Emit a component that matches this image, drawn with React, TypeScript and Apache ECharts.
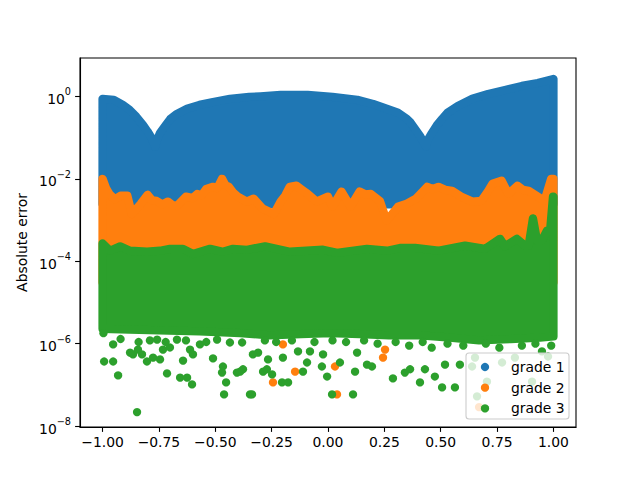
import React, { useEffect, useRef } from "react";
import * as echarts from "echarts";

const seriesNames = ["grade 1", "grade 2", "grade 3"];
const seriesColors = ["#1f77b4", "#ff7f0e", "#2ca02c"];
const xTicks = [-1, -0.75, -0.5, -0.25, 0, 0.25, 0.5, 0.75, 1];
const yTickExponents = [-8, -6, -4, -2, 0];
const yLabel = "Absolute error";

// grade 1: dense band, upper edge (left -> right) and lower edge (right -> left)
const grade1Upper: number[][] = [
  [-1.0, 0.87], [-0.95, 0.82], [-0.91, 0.62], [-0.88, 0.47], [-0.85, 0.32], [-0.82, 0.2],
  [-0.8, 0.14], [-0.78, 0.093], [-0.767, 0.06], [-0.758, 0.088], [-0.745, 0.13], [-0.72, 0.2],
  [-0.7, 0.28], [-0.67, 0.375], [-0.625, 0.5], [-0.57, 0.62], [-0.51, 0.73], [-0.435, 0.87],
  [-0.35, 0.97], [-0.3, 1.0], [-0.21, 1.08], [-0.09, 1.08], [0.02, 0.97], [0.13, 0.82],
  [0.2, 0.655], [0.26, 0.5], [0.31, 0.4], [0.35, 0.284], [0.364, 0.24], [0.386, 0.163],
  [0.408, 0.11], [0.435, 0.06], [0.443, 0.088], [0.461, 0.13], [0.483, 0.2], [0.506, 0.284],
  [0.53, 0.4], [0.576, 0.586], [0.64, 0.87], [0.71, 1.14], [0.785, 1.43], [0.86, 1.79],
  [0.93, 2.11], [1.0, 2.64],
];
const grade1Lower: number[][] = [[1.0, 2.4e-3], [-1.0, 2.4e-3]];

// grade 2
const grade2Upper: number[][] = [
  [-1.0, 1.0e-2], [-0.985, 6.0e-3], [-0.97, 4.3e-3], [-0.945, 3.2e-3], [-0.92, 3.9e-3], [-0.89, 3.9e-3],
  [-0.87, 1.4e-3], [-0.83, 2.5e-3], [-0.8, 4.1e-3], [-0.78, 3.0e-3], [-0.76, 2.9e-3], [-0.735, 2.4e-3],
  [-0.71, 2.8e-3], [-0.69, 2.3e-3], [-0.67, 2.2e-3], [-0.63, 3.7e-3], [-0.6, 3.4e-3], [-0.58, 4.3e-3],
  [-0.56, 4.0e-3], [-0.54, 5.7e-3], [-0.51, 6.4e-3], [-0.49, 6.0e-3], [-0.47, 1.0e-2], [-0.455, 7.0e-3],
  [-0.44, 6.4e-3], [-0.42, 4.6e-3], [-0.4, 3.7e-3], [-0.36, 2.8e-3], [-0.33, 3.3e-3], [-0.31, 2.5e-3],
  [-0.29, 1.9e-3], [-0.24, 1.4e-3], [-0.21, 2.8e-3], [-0.19, 3.9e-3], [-0.17, 6.4e-3], [-0.14, 6.8e-3],
  [-0.115, 5.4e-3], [-0.09, 4.3e-3], [-0.05, 2.8e-3], [0.0, 3.7e-3], [0.02, 2.1e-3], [0.06, 4.9e-3],
  [0.08, 3.2e-3], [0.1, 2.1e-3], [0.14, 4.9e-3], [0.165, 4.2e-3], [0.19, 4.3e-3], [0.23, 2.9e-3],
  [0.26, 9.6e-4], [0.31, 2.1e-3], [0.35, 2.5e-3], [0.39, 3.3e-3], [0.42, 4.9e-3], [0.44, 6.4e-3],
  [0.465, 5.6e-3], [0.49, 6.4e-3], [0.52, 5.4e-3], [0.55, 5.1e-3], [0.59, 3.7e-3], [0.64, 2.8e-3],
  [0.68, 2.9e-3], [0.71, 5.0e-3], [0.73, 7.6e-3], [0.77, 9.0e-3], [0.8, 4.3e-3], [0.84, 6.8e-3],
  [0.865, 5.4e-3], [0.89, 5.1e-3], [0.93, 3.7e-3], [0.96, 2.9e-3], [0.99, 1.0e-2], [1.0, 1.0e-2],
];
const grade2Lower: number[][] = [[1.0, 3e-5], [-1.0, 3e-5]];
const grade2Points: number[][] = [
  [-0.244, 1.15e-7], [-0.146, 2.1e-7], [0.031, 2.8e-7], [0.04, 5.9e-8], [-0.2, 9.6e-7],
  [0.253, 7.2e-7], [0.244, 4.6e-7], [0.67, 2.9e-8],
];

// grade 3
const grade3Upper: number[][] = [
  [-1.0, 2.7e-4], [-0.967, 1.8e-4], [-0.922, 2.3e-4], [-0.878, 1.8e-4], [-0.803, 1.7e-4], [-0.745, 1.8e-4],
  [-0.701, 2.0e-4], [-0.643, 2.0e-4], [-0.599, 1.5e-4], [-0.523, 2.0e-4], [-0.466, 1.7e-4], [-0.421, 2.0e-4],
  [-0.359, 1.9e-4], [-0.279, 2.3e-4], [-0.169, 1.7e-4], [-0.022, 1.9e-4], [0.04, 1.6e-4], [0.173, 2.0e-4],
  [0.262, 1.8e-4], [0.319, 2.1e-4], [0.386, 2.1e-4], [0.488, 1.8e-4], [0.608, 2.4e-4], [0.696, 2.0e-4],
  [0.763, 3.5e-4], [0.785, 2.3e-4], [0.838, 3.5e-4], [0.874, 2.4e-4], [0.89, 2.4e-4], [0.909, 1.1e-3],
  [0.927, 3.2e-4], [0.949, 3.2e-4], [0.971, 5.5e-4], [0.985, 5.5e-4], [0.998, 3.7e-3], [1.0, 3.7e-3],
];
const grade3Lower: number[][] = [
  [1.0, 1.5e-6], [0.94, 1.4e-6], [0.81, 1.3e-6], [0.67, 1.2e-6], [0.54, 1.4e-6], [0.41, 1.6e-6],
  [0.27, 1.6e-6], [0.14, 1.7e-6], [0.01, 1.8e-6], [-0.12, 1.7e-6], [-0.26, 1.6e-6], [-0.39, 1.8e-6],
  [-0.57, 2.0e-6], [-0.75, 2.1e-6], [-0.88, 2.2e-6], [-1.0, 2.3e-6],
];
const grade3Points: number[][] = [
  [-0.996, 1.8e-6], [-0.953, 9.6e-7], [-0.993, 3.7e-7], [-0.953, 3.7e-7], [-0.931, 1.7e-7], [-0.878, 6.1e-7],
  [-0.865, 5.5e-7], [-0.843, 7.2e-7], [-0.825, 5.5e-7], [-0.803, 3.7e-7], [-0.776, 4.6e-7], [-0.758, 1.26e-6],
  [-0.745, 4.15e-7], [-0.732, 7.2e-7], [-0.714, 1.9e-7], [-0.701, 8.1e-7], [-0.67, 1.26e-6], [-0.656, 1.5e-7],
  [-0.643, 3.9e-7], [-0.625, 1.5e-7], [-0.612, 7.2e-7], [-0.603, 1.03e-7], [-0.599, 5.5e-7], [-0.568, 9.6e-7],
  [-0.51, 4.4e-7], [-0.492, 1.26e-6], [-0.466, 2.8e-7], [-0.47, 2.0e-7], [-0.452, 1.15e-7], [-0.461, 5.9e-8],
  [-0.435, 1.07e-6], [-0.404, 2.0e-7], [-0.377, 2.4e-7], [-0.346, 5.9e-8], [-0.847, 2.2e-8],
  [-0.39, 2.1e-7], [-0.381, 1.07e-6], [-0.337, 5.9e-8], [-0.31, 6.1e-7], [-0.333, 5.5e-7], [-0.288, 2.1e-7],
  [-0.266, 4.15e-7], [-0.271, 2.4e-7], [-0.248, 1.8e-7], [-0.204, 1.15e-7], [-0.177, 1.15e-7],
  [-0.2, 4.6e-7], [-0.111, 2.1e-7], [-0.093, 3.5e-7], [-0.133, 6.5e-7], [-0.08, 6.5e-7], [-0.027, 2.8e-7],
  [-0.004, 1.6e-7], [-0.022, 5.5e-7], [0.053, 3.5e-7], [0.018, 5.9e-8], [0.111, 5.9e-8], [0.12, 2.1e-7],
  [0.129, 6.1e-7], [0.173, 3.1e-7], [0.195, 2.8e-7], [0.288, 1.44e-7], [0.341, 2.0e-7],
  [0.408, 1.15e-7], [0.474, 1.6e-7], [0.506, 8.7e-8], [0.563, 8.7e-8], [0.364, 2.4e-7], [0.43, 2.4e-7],
  [0.519, 3.1e-7], [0.585, 3.1e-7], [0.639, 2.8e-7], [0.652, 4.6e-7], [0.661, 5.3e-8], [0.705, 1.2e-7],
  [0.772, 3.5e-7], [0.829, 4.6e-7], [0.905, 1.2e-7], [0.949, 6.5e-7], [0.976, 4.9e-7],
  [-0.92, 1.3e-6], [-0.84, 1.1e-6], [-0.79, 1.2e-6], [-0.72, 1.1e-6], [-0.63, 1.2e-6], [-0.54, 1.1e-6],
  [-0.28, 1.2e-6], [-0.23, 1.1e-6], [-0.16, 1.2e-6], [-0.06, 1.1e-6], [0.02, 1.2e-6], [0.08, 1.1e-6],
  [0.16, 1.2e-6], [0.22, 1.0e-6], [0.3, 1.1e-6], [0.36, 9.0e-7], [0.42, 1.1e-6], [0.46, 8.0e-7],
  [0.53, 1.0e-6], [0.6, 9.0e-7], [0.7, 1.0e-6], [0.76, 8.0e-7], [0.86, 9.0e-7], [0.92, 1.0e-6], [0.99, 9.0e-7],
];

const FONT = "DejaVu Sans";
const MARKER = 8.3;

const toLog = (pts: number[][]) => pts.map((p) => [p[0], Math.log10(p[1])]);

const bandRender = (color: string) => (params: any, api: any) => {
  if (params.dataIndexInside !== 0) return null;
  const n = params.dataInsideLength;
  const points: number[][] = [];
  for (let i = 0; i < n; i++) {
    points.push(api.coord([api.value(0, i), api.value(1, i)]));
  }
  return {
    type: "polygon",
    shape: { points },
    style: { fill: color, stroke: color, lineWidth: MARKER, lineJoin: "round" },
  };
};

const band = (name: string, color: string, upper: number[][], lower: number[][]) => ({
  type: "custom",
  name,
  silent: true,
  renderItem: bandRender(color),
  data: toLog([...upper, ...lower]),
});

const dots = (name: string, color: string, pts: number[][]) => ({
  type: "scatter",
  name,
  silent: true,
  symbol: "circle",
  symbolSize: MARKER,
  itemStyle: { color, opacity: 1 },
  data: toLog(pts),
});

const fmtX = (v: number) => (v < 0 ? "\u2212" : "") + Math.abs(v).toFixed(2);
const fmtY = (v: number) => {
  const e = Math.round(v);
  return `{b|10}{s|${e === 0 ? "0" : "\u2212" + Math.abs(e)}}`;
};

export default function App() {
  const ref = useRef<HTMLDivElement>(null);
  useEffect(() => {
    document.body.style.margin = "0";
    if (!ref.current) return;
    const chart = echarts.init(ref.current, undefined, { renderer: "svg" });
    const tickLine = { color: "#000", width: 1.1 };
    const legendX = 466;
    const legendY = 353;
    const rowGap = 20.7;
    chart.setOption({
      animation: false,
      backgroundColor: "#fff",
      grid: {
        left: 80,
        top: 58,
        width: 496,
        height: 369,
        show: true,
        borderColor: "#000",
        borderWidth: 1.1,
        backgroundColor: "transparent",
        containLabel: false,
      },
      xAxis: {
        type: "value",
        min: -1.1,
        max: 1.1,
        axisLine: { show: true, onZero: false, lineStyle: tickLine },
        axisTick: { show: true, customValues: xTicks, length: 4.9, lineStyle: tickLine },
        axisLabel: {
          customValues: xTicks,
          formatter: fmtX,
          margin: 8,
          fontSize: 13.9,
          fontFamily: FONT,
          color: "#000",
        },
        splitLine: { show: false },
      },
      yAxis: {
        type: "value",
        min: -8.02,
        max: 0.93,
        axisLine: { show: true, onZero: false, lineStyle: tickLine },
        axisTick: { show: true, customValues: yTickExponents, length: 4.9, lineStyle: tickLine },
        axisLabel: {
          customValues: yTickExponents,
          formatter: fmtY,
          margin: 9,
          color: "#000",
          rich: {
            b: { fontSize: 13.9, fontFamily: FONT, color: "#000", verticalAlign: "bottom", lineHeight: 19 },
            s: { fontSize: 9.7, fontFamily: FONT, color: "#000", verticalAlign: "top", lineHeight: 19 },
          },
        },
        splitLine: { show: false },
      },
      series: [
        band(seriesNames[0], seriesColors[0], grade1Upper, grade1Lower),
        band(seriesNames[1], seriesColors[1], grade2Upper, grade2Lower),
        dots(seriesNames[1], seriesColors[1], grade2Points),
        band(seriesNames[2], seriesColors[2], grade3Upper, grade3Lower),
        dots(seriesNames[2], seriesColors[2], grade3Points),
      ],
      graphic: [
        {
          type: "text",
          x: 22,
          y: 242.5,
          rotation: Math.PI / 2,
          style: {
            text: yLabel,
            fontSize: 13.9,
            fontFamily: FONT,
            fill: "#000",
            align: "center",
            verticalAlign: "middle",
          },
        },
        {
          type: "rect",
          z: 100,
          shape: { x: legendX, y: legendY, width: 103, height: 66, r: 3 },
          style: { fill: "rgba(255,255,255,0.8)", stroke: "#cccccc", lineWidth: 1.1 },
        },
        ...seriesNames.map((name, i) => ({
          type: "circle",
          z: 101,
          shape: { cx: legendX + 19, cy: legendY + 14 + i * rowGap, r: MARKER / 2 },
          style: { fill: seriesColors[i] },
        })),
        ...seriesNames.map((name, i) => ({
          type: "text",
          z: 101,
          x: legendX + 45,
          y: legendY + 14 + i * rowGap,
          style: {
            text: name,
            fontSize: 13.9,
            fontFamily: FONT,
            fill: "#000",
            align: "left",
            verticalAlign: "middle",
          },
        })),
      ],
    });
    return () => chart.dispose();
  }, []);
  return <div ref={ref} style={{ width: 640, height: 480 }} />;
}
